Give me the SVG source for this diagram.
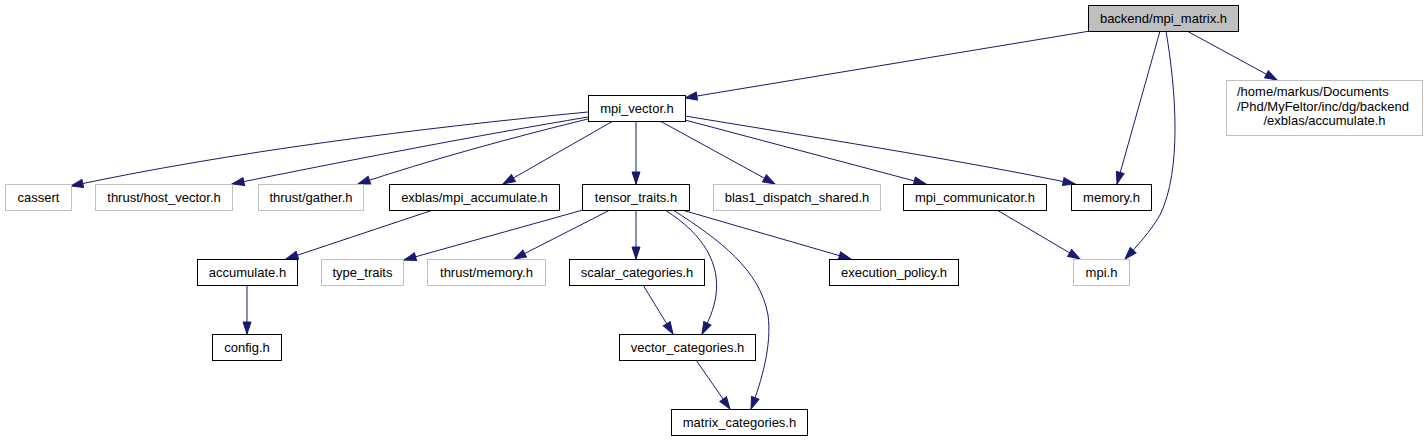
<svg xmlns="http://www.w3.org/2000/svg" width="1428" height="440" viewBox="0 0 1428 440">
<style>
.n rect{fill:#fff;stroke:#000;stroke-width:1}
.x rect{fill:#fff;stroke:#bfbfbf;stroke-width:1}
.r rect{fill:#bfbfbf;stroke:#000;stroke-width:1}
text{font-family:"Liberation Sans",Arial,Helvetica,sans-serif;font-size:13px;fill:#000;text-anchor:middle}
.e path{fill:none;stroke:#191970;stroke-width:1;marker-end:url(#a)}
</style>
<defs>
<marker id="a" markerWidth="14" markerHeight="10" refX="13" refY="5" orient="auto" markerUnits="userSpaceOnUse">
<path d="M1,1 L13,5 L1,9 z" fill="#191970" stroke="#191970" stroke-width="1"/>
</marker>
</defs>
<rect width="1428" height="440" fill="#fff"/>
<g class="e" id="edges">
<path d="M1090,31 L685,98"/>
<path d="M1187,31 L1277,80"/>
<path d="M1160,31 L1117,184"/>
<path d="M1166,31 C1176,90 1182,170 1160,215 C1150,232 1138,245 1125,259"/>
<path d="M588,112 C420,128 230,152 71,186"/>
<path d="M588,117 C480,135 350,160 232,184"/>
<path d="M588,119 C510,138 430,160 358,184"/>
<path d="M613,121 L503,184"/>
<path d="M636,121 L636,184"/>
<path d="M660,121 L775,184"/>
<path d="M685,120 L926,184"/>
<path d="M685,116 C800,135 960,160 1075,184"/>
<path d="M433,210 L286,259"/>
<path d="M247,285 L247,334"/>
<path d="M590,208 L404,260"/>
<path d="M610,210 L514,259"/>
<path d="M636,210 L636,259"/>
<path d="M665,210 C705,235 720,265 716,295 C714,310 708,322 702,334"/>
<path d="M673,210 C720,240 760,270 768,315 C772,345 762,380 751,409"/>
<path d="M682,210 L851,259"/>
<path d="M643,285 L673,334"/>
<path d="M696,360 L730,409"/>
<path d="M997,210 L1080,259"/>
</g>
<g class="r" id="n_root"><rect x="1088.5" y="5.5" width="150" height="26"/><text x="1163.5" y="22.5">backend/mpi_matrix.h</text></g>
<g class="x" id="n_home"><rect x="1226.5" y="80.5" width="196" height="55"/>
<text x="1237" y="96" style="text-anchor:start">/home/markus/Documents</text>
<text x="1237" y="110.5" style="text-anchor:start">/Phd/MyFeltor/inc/dg/backend</text>
<text x="1324.5" y="125">/exblas/accumulate.h</text></g>
<g class="n" id="n_mpi_vector"><rect x="588.5" y="95.5" width="97" height="26"/><text x="637" y="112.5">mpi_vector.h</text></g>
<g class="x" id="n_cassert"><rect x="5.5" y="184.5" width="66" height="26"/><text x="38.5" y="201.5">cassert</text></g>
<g class="x" id="n_host_vector"><rect x="95.5" y="184.5" width="137" height="26"/><text x="164" y="201.5">thrust/host_vector.h</text></g>
<g class="x" id="n_gather"><rect x="258.5" y="184.5" width="105" height="26"/><text x="311" y="201.5">thrust/gather.h</text></g>
<g class="n" id="n_mpi_accumulate"><rect x="389.5" y="184.5" width="170" height="26"/><text x="474.5" y="201.5">exblas/mpi_accumulate.h</text></g>
<g class="n" id="n_tensor_traits"><rect x="582.5" y="184.5" width="107" height="26"/><text x="636" y="201.5">tensor_traits.h</text></g>
<g class="x" id="n_blas1"><rect x="713.5" y="184.5" width="167" height="26"/><text x="797" y="201.5">blas1_dispatch_shared.h</text></g>
<g class="n" id="n_mpi_communicator"><rect x="903.5" y="184.5" width="143" height="26"/><text x="975" y="201.5">mpi_communicator.h</text></g>
<g class="n" id="n_memory"><rect x="1071.5" y="184.5" width="80" height="26"/><text x="1111.5" y="201.5">memory.h</text></g>
<g class="n" id="n_accumulate"><rect x="197.5" y="259.5" width="100" height="26"/><text x="247.5" y="276.5">accumulate.h</text></g>
<g class="x" id="n_type_traits"><rect x="321.5" y="259.5" width="82" height="26"/><text x="362.5" y="276.5">type_traits</text></g>
<g class="x" id="n_thrust_memory"><rect x="427.5" y="259.5" width="118" height="26"/><text x="486.5" y="276.5">thrust/memory.h</text></g>
<g class="n" id="n_scalar_categories"><rect x="569.5" y="259.5" width="135" height="26"/><text x="637" y="276.5">scalar_categories.h</text></g>
<g class="n" id="n_execution_policy"><rect x="829.5" y="259.5" width="129" height="26"/><text x="894" y="276.5">execution_policy.h</text></g>
<g class="x" id="n_mpi"><rect x="1073.5" y="259.5" width="56" height="26"/><text x="1101.5" y="276.5">mpi.h</text></g>
<g class="n" id="n_config"><rect x="212.5" y="334.5" width="69" height="26"/><text x="247" y="351.5">config.h</text></g>
<g class="n" id="n_vector_categories"><rect x="619.5" y="334.5" width="136" height="26"/><text x="687.5" y="351.5">vector_categories.h</text></g>
<g class="n" id="n_matrix_categories"><rect x="671.5" y="409.5" width="136" height="26"/><text x="739.5" y="426.5">matrix_categories.h</text></g>
</svg>
